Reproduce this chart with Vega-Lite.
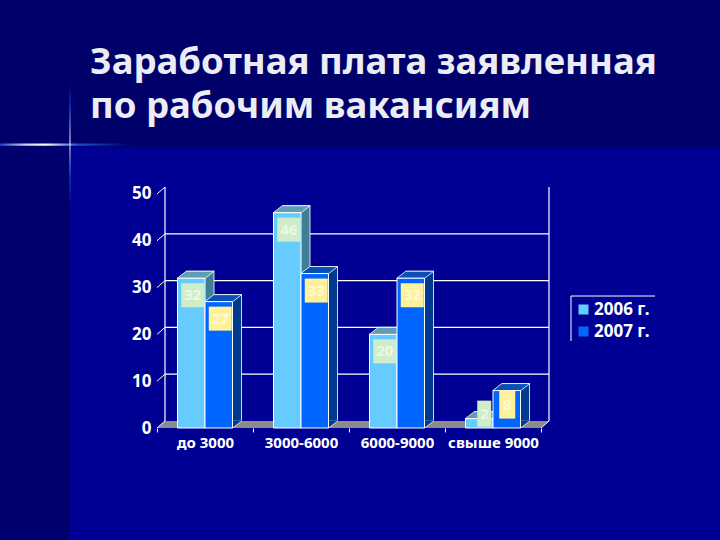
{"$schema":"https://vega.github.io/schema/vega-lite/v6.json","width":720,"height":540,"padding":0,"autosize":{"type":"none"},"background":"#000094","view":{"stroke":null},
"title":{"text":["Заработная плата заявленная","по рабочим вакансиям"],"anchor":"start","frame":"group","align":"left","baseline":"top","dx":90,"dy":125,"offset":0,"font":"Noto Sans","fontWeight":"bold","fontSize":36.5,"lineHeight":44,"color":"#ececf4"},
"datasets":{"bars":[{"category":"до 3000","series":"2006 г.","value":32},{"category":"3000-6000","series":"2006 г.","value":46},{"category":"6000-9000","series":"2006 г.","value":20},{"category":"свыше 9000","series":"2006 г.","value":2},{"category":"до 3000","series":"2007 г.","value":27},{"category":"3000-6000","series":"2007 г.","value":33},{"category":"6000-9000","series":"2007 г.","value":32},{"category":"свыше 9000","series":"2007 г.","value":8}],"ticks":[{"tick":0},{"tick":10},{"tick":20},{"tick":30},{"tick":40},{"tick":50}],"one":[{"part":"decor"}]},
"resolve":{"scale":{"x":"independent","fill":"independent"},"axis":{"x":"independent","y":"independent"}},
"layer":[
{"data":{"name":"one"},"mark":{"type":"rect","fill":"#00006b"},"encoding":{"x":{"datum":0,"type":"quantitative","axis":null,"scale":{"domain":[0,720],"nice":false,"zero":false}},"x2":{"datum":720},"y":{"datum":91.45,"type":"quantitative","scale":{"domain":[-23.93,91.45],"nice":false,"zero":false},"axis":null},"y2":{"datum":60}}},
{"data":{"name":"one"},"mark":{"type":"rect","fill":"#00006f"},"encoding":{"x":{"datum":0,"type":"quantitative","axis":null,"scale":{"domain":[0,720],"nice":false,"zero":false}},"x2":{"datum":69},"y":{"datum":60,"type":"quantitative","scale":{"domain":[-23.93,91.45],"nice":false,"zero":false},"axis":null},"y2":{"datum":-23.93}}},
{"data":{"name":"one"},"mark":{"type":"rect","fill":{"x1":0,"y1":0,"x2":1,"y2":0,"gradient":"linear","stops":[{"offset":0,"color":"#1a3fd0"},{"offset":0.2,"color":"#c8d4ff"},{"offset":0.35,"color":"#ffffff"},{"offset":0.6,"color":"#1a4fd8"},{"offset":1,"color":"#00006b"}]}},"encoding":{"x":{"datum":0,"type":"quantitative","axis":null,"scale":{"domain":[0,720],"nice":false,"zero":false}},"x2":{"datum":130},"y":{"datum":60.8,"type":"quantitative","scale":{"domain":[-23.93,91.45],"nice":false,"zero":false},"axis":null},"y2":{"datum":60.3}}},
{"data":{"name":"one"},"mark":{"type":"rect","fill":{"x1":0,"y1":0,"x2":0,"y2":1,"gradient":"linear","stops":[{"offset":0,"color":"#00006b"},{"offset":0.2,"color":"#1a4fd8"},{"offset":0.48,"color":"#ffffff"},{"offset":0.75,"color":"#1a4fd8"},{"offset":1,"color":"#00006f"}]}},"encoding":{"x":{"datum":69.5,"type":"quantitative","axis":null,"scale":{"domain":[0,720],"nice":false,"zero":false}},"x2":{"datum":70.5},"y":{"datum":74,"type":"quantitative","scale":{"domain":[-23.93,91.45],"nice":false,"zero":false},"axis":null},"y2":{"datum":47}}},
{"data":{"name":"one"},"mark":{"type":"point","filled":true,"opacity":1,"fill":"#8c8c8c","stroke":null,"size":4,"shape":"M-196,0L188,0L196,-7L-188,-7Z"},"encoding":{"x":{"datum":353,"type":"quantitative","axis":null,"scale":{"domain":[0,720],"nice":false,"zero":false}},"y":{"datum":0,"type":"quantitative","scale":{"domain":[-23.93,91.45],"nice":false,"zero":false},"axis":null}}},
{"data":{"name":"ticks"},"transform":[{"filter":"datum.tick>0 && datum.tick<50"}],"mark":{"type":"rule","stroke":"#ffffff","strokeWidth":1.2,"yOffset":-7},"encoding":{"x":{"datum":165,"type":"quantitative","axis":null,"scale":{"domain":[0,720],"nice":false,"zero":false}},"x2":{"datum":549},"y":{"field":"tick","type":"quantitative","scale":{"domain":[-23.93,91.45],"nice":false,"zero":false},"axis":null}}},
{"data":{"name":"one"},"mark":{"type":"rule","stroke":"#ffffff","strokeWidth":1.2,"yOffset":-7,"y2Offset":-7},"encoding":{"x":{"datum":165,"type":"quantitative","axis":null,"scale":{"domain":[0,720],"nice":false,"zero":false}},"y":{"datum":50,"type":"quantitative","scale":{"domain":[-23.93,91.45],"nice":false,"zero":false},"axis":null},"y2":{"datum":0}}},
{"data":{"name":"one"},"mark":{"type":"rule","stroke":"#ffffff","strokeWidth":1.2,"yOffset":-7,"y2Offset":-7},"encoding":{"x":{"datum":549,"type":"quantitative","axis":null,"scale":{"domain":[0,720],"nice":false,"zero":false}},"y":{"datum":50,"type":"quantitative","scale":{"domain":[-23.93,91.45],"nice":false,"zero":false},"axis":null},"y2":{"datum":0}}},
{"data":{"name":"ticks"},"mark":{"type":"point","filled":false,"opacity":1,"stroke":"#ffffff","strokeWidth":1,"size":4,"shape":"M0,0L8,-7"},"encoding":{"x":{"datum":157,"type":"quantitative","axis":null,"scale":{"domain":[0,720],"nice":false,"zero":false}},"y":{"field":"tick","type":"quantitative","scale":{"domain":[-23.93,91.45],"nice":false,"zero":false},"axis":{"values":[0,10,20,30,40,50],"orient":"left","offset":-151,"domain":false,"ticks":false,"grid":false,"title":null,"labelPadding":0,"labelColor":"#ffffff","labelFont":"Noto Sans","labelFontSize":17,"labelFontWeight":"bold"}}}},
{"data":{"name":"one"},"mark":{"type":"point","filled":false,"opacity":1,"stroke":"#ffffff","strokeWidth":1,"size":4,"shape":"M0,0L8,-7"},"encoding":{"x":{"datum":541,"type":"quantitative","axis":null,"scale":{"domain":[0,720],"nice":false,"zero":false}},"y":{"datum":0,"type":"quantitative","scale":{"domain":[-23.93,91.45],"nice":false,"zero":false},"axis":null}}},
{"data":{"name":"one"},"mark":{"type":"rule","stroke":"#ffffff","strokeWidth":1},"encoding":{"x":{"datum":571,"type":"quantitative","axis":null,"scale":{"domain":[0,720],"nice":false,"zero":false}},"x2":{"datum":655},"y":{"datum":28.2,"type":"quantitative","scale":{"domain":[-23.93,91.45],"nice":false,"zero":false},"axis":null}}},
{"data":{"name":"one"},"mark":{"type":"rule","stroke":"#ffffff","strokeWidth":1},"encoding":{"x":{"datum":571,"type":"quantitative","axis":null,"scale":{"domain":[0,720],"nice":false,"zero":false}},"y":{"datum":28.2,"type":"quantitative","scale":{"domain":[-23.93,91.45],"nice":false,"zero":false},"axis":null},"y2":{"datum":18.6}}},
{"data":{"name":"bars"},"mark":{"type":"bar","yOffset":-7,"y2Offset":-7,"stroke":"#ffffff","strokeWidth":0.8},"encoding":{
"x":{"field":"category","type":"nominal","sort":null,"scale":{"domain":["до 3000","3000-6000","6000-9000","свыше 9000"],"range":[166,550],"paddingInner":0,"paddingOuter":0},"axis":null},
"xOffset":{"field":"series","type":"nominal","sort":null,"scale":{"paddingInner":0,"paddingOuter":0.745}},
"y":{"field":"value","type":"quantitative","scale":{"domain":[-23.93,91.45],"nice":false,"zero":false},"axis":null},
"y2":{"datum":0},
"fill":{"field":"series","type":"nominal","legend":null,"scale":{"domain":["2006 г.","2007 г."],"range":["#3f7f94","#003a8c"]}}}},
{"data":{"name":"bars"},"resolve":{"scale":{"fill":"independent"}},"layer":[
{"mark":{"type":"point","filled":true,"opacity":1,"stroke":null,"size":4,"shape":"M14,0L14,-7.6L23.5,-7.6L23.5,-7Z"},"encoding":{"y":{"datum":0,"type":"quantitative","scale":{"domain":[-23.93,91.45],"nice":false,"zero":false},"axis":null},"fill":{"field":"series","type":"nominal","legend":null,"scale":{"domain":["2006 г.","2007 г."],"range":["#3f7f94","#003a8c"]}}}},
{"mark":{"type":"point","filled":false,"opacity":1,"stroke":"#ffffff","strokeWidth":0.8,"size":4,"shape":"M14,0L23,-7"},"encoding":{"y":{"datum":0,"type":"quantitative","scale":{"domain":[-23.93,91.45],"nice":false,"zero":false},"axis":null}}},
{"mark":{"type":"point","filled":true,"opacity":1,"stroke":"#ffffff","strokeWidth":0.8,"size":4,"shape":"M-14,0L14,0L23,-7L-5,-7Z"},"encoding":{"fill":{"field":"series","type":"nominal","legend":null,"scale":{"domain":["2006 г.","2007 г."],"range":["#5f9db3","#0a4fb5"]}}}},
{"mark":{"type":"bar","stroke":"#ffffff","strokeWidth":1},"encoding":{"fill":{"field":"series","type":"nominal","title":null,"scale":{"domain":["2006 г.","2007 г."],"range":["#66ccff","#0066ff"]},"legend":{"orient":"none","legendX":571,"legendY":297,"padding":4,"symbolType":"square","symbolSize":100,"symbolStrokeWidth":0,"rowPadding":4,"labelOffset":2,"labelColor":"#ffffff","labelFont":"Noto Sans","labelFontSize":17,"labelFontWeight":"bold","labelLimit":90}}}},
{"transform":[{"filter":"datum.value>=10"}],"mark":{"type":"point","filled":true,"opacity":1,"size":4,"stroke":null,"shape":"M-10,-12L13,-12L13,12L-10,12Z","yOffset":17},"encoding":{"fill":{"field":"series","type":"nominal","legend":null,"scale":{"domain":["2006 г.","2007 г."],"range":["#cdeec8","#fff09a"]}}}},
{"transform":[{"filter":"datum.value<10"}],"mark":{"type":"point","filled":true,"opacity":1,"size":4,"stroke":null,"shape":{"expr":"datum.value<5?'M-2,-13L12,-13L12,13L-2,13Z':'M-7.5,-14L8.5,-14L8.5,14L-7.5,14Z'"},"yOffset":{"expr":"datum.value<5?-5:14"}},"encoding":{"fill":{"field":"series","type":"nominal","legend":null,"scale":{"domain":["2006 г.","2007 г."],"range":["#cdeec8","#fff09a"]}}}},
{"transform":[{"filter":"datum.value>=10"}],"mark":{"type":"text","color":"#ffffff","opacity":0.6,"font":"Noto Sans","fontWeight":"bold","fontSize":15,"dx":1.5,"yOffset":17},"encoding":{"text":{"field":"value","type":"quantitative"}}},
{"transform":[{"filter":"datum.value<10"}],"mark":{"type":"text","color":"#ffffff","opacity":0.6,"font":"Noto Sans","fontWeight":"bold","fontSize":15,"dx":{"expr":"datum.value<5?5:0.5"},"yOffset":{"expr":"datum.value<5?-5:14"}},"encoding":{"text":{"field":"value","type":"quantitative"}}}
],"encoding":{
"x":{"field":"category","type":"nominal","sort":null,"scale":{"domain":["до 3000","3000-6000","6000-9000","свыше 9000"],"range":[157,541],"paddingInner":0,"paddingOuter":0},"axis":{"orient":"bottom","offset":-112,"title":null,"domain":false,"labelAngle":0,"labelPadding":3,"tickColor":"#ffffff","tickSize":4,"tickBand":"extent","labelColor":"#ffffff","labelFont":"Noto Sans","labelFontSize":15,"labelFontWeight":"bold","labelLimit":120}},
"xOffset":{"field":"series","type":"nominal","sort":null,"scale":{"paddingInner":0,"paddingOuter":0.745}},
"y":{"field":"value","type":"quantitative","scale":{"domain":[-23.93,91.45],"nice":false,"zero":false},"axis":null},
"y2":{"datum":0}}}
]}
